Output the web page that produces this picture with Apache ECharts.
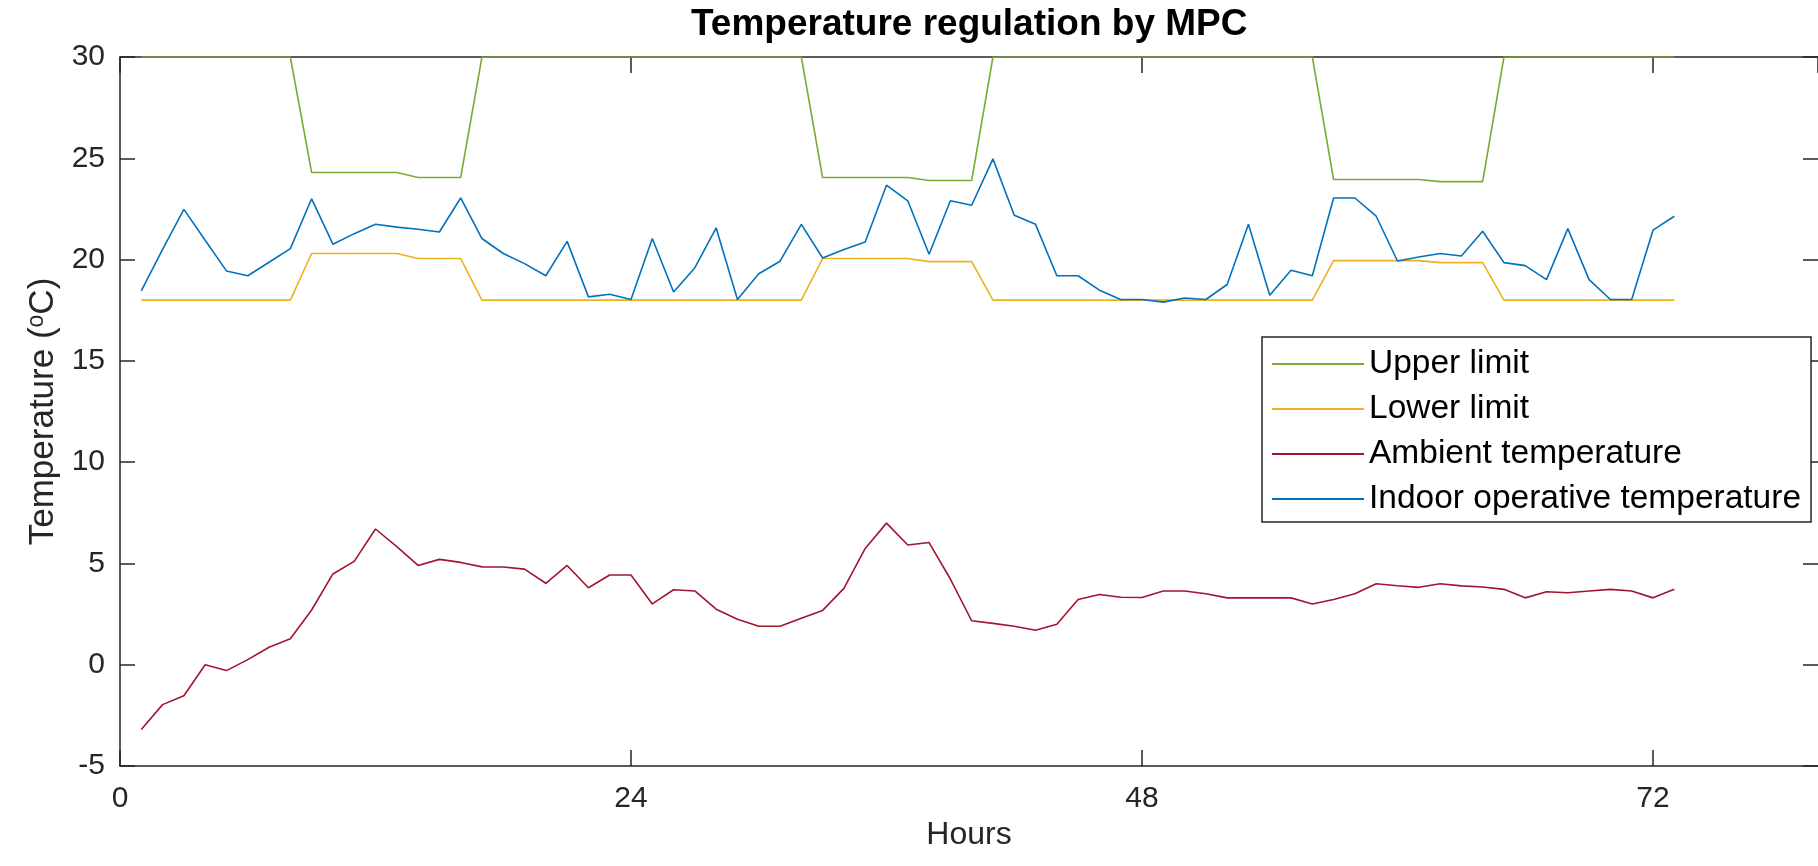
<!DOCTYPE html>
<html>
<head>
<meta charset="utf-8">
<script src="https://cdn.jsdelivr.net/npm/echarts@6/dist/echarts.min.js"></script>
<style>
html,body{margin:0;padding:0;background:#fff;}
#chart{width:1818px;height:866px;}
</style>
</head>
<body>
<div id="chart"></div>
<script>
const hours = [1,2,3,4,5,6,7,8,9,10,11,12,13,14,15,16,17,18,19,20,21,22,23,24,25,26,27,28,29,30,31,32,33,34,35,36,37,38,39,40,41,42,43,44,45,46,47,48,49,50,51,52,53,54,55,56,57,58,59,60,61,62,63,64,65,66,67,68,69,70,71,72,73];

const upperLimit = [30,30,30,30,30,30,30,30,24.3,24.3,24.3,24.3,24.3,24.05,24.05,24.05,30,30,30,30,30,30,30,30,30,30,30,30,30,30,30,30,24.05,24.05,24.05,24.05,24.05,23.9,23.9,23.9,30,30,30,30,30,30,30,30,30,30,30,30,30,30,30,30,23.95,23.95,23.95,23.95,23.95,23.85,23.85,23.85,30,30,30,30,30,30,30,30,30];

const lowerLimit = [18,18,18,18,18,18,18,18,20.3,20.3,20.3,20.3,20.3,20.05,20.05,20.05,18,18,18,18,18,18,18,18,18,18,18,18,18,18,18,18,20.05,20.05,20.05,20.05,20.05,19.9,19.9,19.9,18,18,18,18,18,18,18,18,18,18,18,18,18,18,18,18,19.95,19.95,19.95,19.95,19.95,19.85,19.85,19.85,18,18,18,18,18,18,18,18,18];

const ambientTemp = [-3.2,-1.97,-1.53,0,-0.29,0.25,0.86,1.28,2.7,4.48,5.1,6.7,5.83,4.9,5.2,5.05,4.83,4.82,4.72,4.02,4.9,3.8,4.43,4.43,3.0,3.7,3.64,2.74,2.24,1.9,1.9,2.29,2.68,3.77,5.74,6.99,5.91,6.03,4.23,2.17,2.04,1.9,1.7,2.0,3.22,3.47,3.33,3.32,3.64,3.64,3.5,3.3,3.3,3.3,3.3,3.0,3.22,3.5,4.0,3.9,3.82,4.0,3.89,3.84,3.72,3.3,3.6,3.55,3.64,3.72,3.64,3.3,3.72];

const indoorTemp = [18.45,20.5,22.48,20.95,19.44,19.2,19.87,20.54,23.0,20.76,21.28,21.74,21.6,21.5,21.36,23.04,21.04,20.3,19.8,19.2,20.9,18.16,18.29,18.03,21.04,18.4,19.6,21.56,18.03,19.3,19.92,21.74,20.08,20.5,20.87,23.67,22.9,20.26,22.9,22.68,24.97,22.19,21.74,19.2,19.2,18.49,18.03,18.03,17.9,18.1,18.03,18.77,21.74,18.24,19.47,19.2,23.04,23.04,22.14,19.93,20.13,20.3,20.18,21.4,19.85,19.7,19.01,21.53,19.01,18.03,18.03,21.45,22.14];

const seriesNames = ['Upper limit','Lower limit','Ambient temperature','Indoor operative temperature'];
const seriesColors = ['#77AC30','#EDB120','#A2142F','#0072BD'];
const xTicks = [0,24,48,72];

const FONT = '"Liberation Sans", Arial, Helvetica, sans-serif';
const AX = '#262626';

function pairs(ys){ return hours.map((h,i)=>[h, ys[i]]); }
const allData = [upperLimit, lowerLimit, ambientTemp, indoorTemp];

const chart = echarts.init(document.getElementById('chart'), null, {renderer:'canvas'});

const commonX = {
  type:'value', min:0, max:79.75, interval:24,
  splitLine:{show:false},
  axisLine:{show:true, onZero:false, lineStyle:{color:AX, width:1.5}},
  axisTick:{show:true, inside:true, length:16, lineStyle:{color:AX, width:1.5}}
};
const commonY = {
  type:'value', min:-5, max:30, interval:5,
  splitLine:{show:false},
  axisLine:{show:true, onZero:false, lineStyle:{color:AX, width:1.5}},
  axisTick:{show:true, inside:true, length:15, lineStyle:{color:AX, width:1.5}}
};

const option = {
  backgroundColor:'#fff',
  animation:false,
  title:{
    text:'Temperature regulation by MPC',
    left:691, top:6, padding:0,
    textStyle:{fontFamily:FONT, fontSize:37, fontWeight:'bold', color:'#000'}
  },
  grid:{left:120, right:0, top:57, bottom:100, containLabel:false},
  legend:{
    orient:'vertical',
    left:1262, top:337,
    data:seriesNames,
    icon:'rect',
    itemWidth:92, itemHeight:2,
    itemGap:11,
    padding:[10,10,6,10],
    backgroundColor:'#fff',
    borderColor:AX, borderWidth:1.5, borderRadius:0,
    textStyle:{fontFamily:FONT, fontSize:33.5, lineHeight:34, color:'#000'}
  },
  xAxis:[
    Object.assign({}, commonX, {
      position:'bottom',
      name:'Hours', nameLocation:'middle', nameGap:50,
      nameTextStyle:{fontFamily:FONT, fontSize:32, color:AX},
      axisLabel:{show:true, margin:18, showMaxLabel:false, fontFamily:FONT, fontSize:30, color:AX,
        formatter:function(v){ return xTicks.indexOf(v) >= 0 ? String(v) : ''; }}
    }),
    Object.assign({}, commonX, {
      position:'top',
      axisLabel:{show:false}
    })
  ],
  yAxis:[
    Object.assign({}, commonY, {
      position:'left',
      name:'{t|Temperature (}{s|o}{t|C)}',
      nameLocation:'middle', nameRotate:90, nameGap:54,
      nameTextStyle:{
        fontFamily:FONT, fontSize:35, color:AX,
        rich:{
          t:{fontFamily:FONT, fontSize:35, color:AX, lineHeight:40},
          s:{fontFamily:FONT, fontSize:23, color:AX, lineHeight:40, verticalAlign:'top', padding:[2,0,0,0]}
        }
      },
      axisLabel:{show:true, margin:15, fontFamily:FONT, fontSize:30, color:AX}
    }),
    Object.assign({}, commonY, {
      position:'right',
      axisLine:{show:false, onZero:false},
      axisLabel:{show:false}
    })
  ],
  series: seriesNames.map((n,i)=>({
    name:n, type:'line', xAxisIndex:0, yAxisIndex:0,
    data:pairs(allData[i]),
    showSymbol:false, symbol:'none',
    lineStyle:{color:seriesColors[i], width:1.6},
    itemStyle:{color:seriesColors[i]},
    z: 2 + i
  }))
};

chart.setOption(option);
</script>
</body>
</html>
